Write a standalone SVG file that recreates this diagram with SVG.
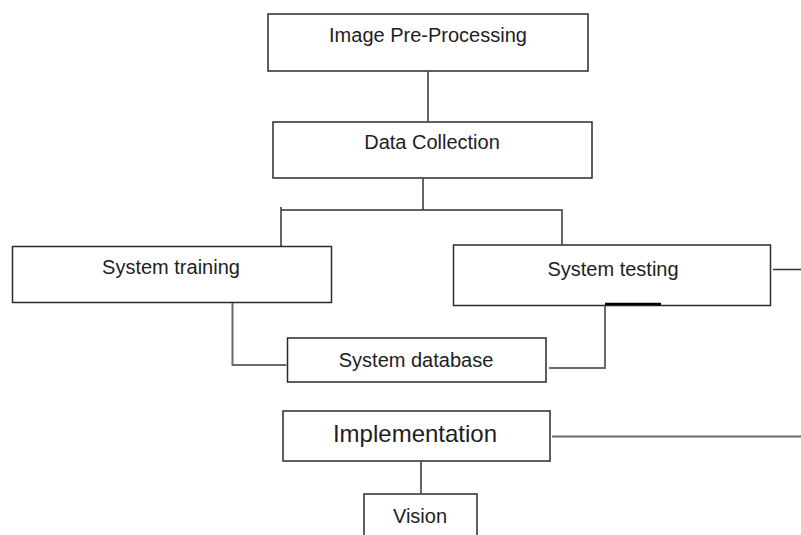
<svg xmlns="http://www.w3.org/2000/svg" width="801" height="535" viewBox="0 0 801 535">
<style>
.box{fill:#fff;stroke:#2b2b2b;stroke-width:1.5}
.t{font-family:"Liberation Sans",Arial,sans-serif;font-size:20px;fill:#1e1e1e;text-anchor:middle}
.c{fill:none;stroke:#333;stroke-width:1.5}
.g{fill:none;stroke:#6a6a6a;stroke-width:2}
</style>
<rect width="801" height="535" fill="#fff"/>
<g id="image-preprocessing">
<rect class="box" x="268" y="14" width="320" height="57"/>
<text class="t" x="428" y="42">Image Pre-Processing</text>
</g>
<g id="data-collection">
<rect class="box" x="273" y="122" width="319" height="56"/>
<text class="t" x="432" y="149">Data Collection</text>
</g>
<g id="system-training">
<rect class="box" x="12.5" y="246.5" width="319" height="56"/>
<text class="t" x="171" y="274">System training</text>
</g>
<g id="system-testing">
<rect class="box" x="453.5" y="245" width="317" height="60.5"/>
<text class="t" x="613" y="276">System testing</text>
</g>
<g id="system-database">
<rect class="box" x="287.5" y="338" width="258.5" height="44"/>
<text class="t" x="416" y="367">System database</text>
</g>
<g id="implementation">
<rect class="box" x="283" y="411" width="267" height="50"/>
<text class="t" x="415" y="442" style="font-size:24px">Implementation</text>
</g>
<g id="vision">
<rect class="box" x="364" y="494" width="113" height="50"/>
<text class="t" x="420" y="523">Vision</text>
</g>
<g id="connectors">
<path class="c" d="M428 71.5V121.5"/>
<path class="c" d="M423 178.5V210"/>
<path class="c" d="M281 207V246M281 210H562V244.5"/>
<path class="g" d="M232.5 303V365H286.5"/>
<path class="g" d="M605 306V368H549"/>
<path d="M605 304H661" fill="none" stroke="#000" stroke-width="2.5"/>
<path class="c" d="M773 269.5H801"/>
<path class="g" d="M552 436.5H801"/>
<path class="c" d="M421 461.5V493.5"/>
</g>
</svg>
